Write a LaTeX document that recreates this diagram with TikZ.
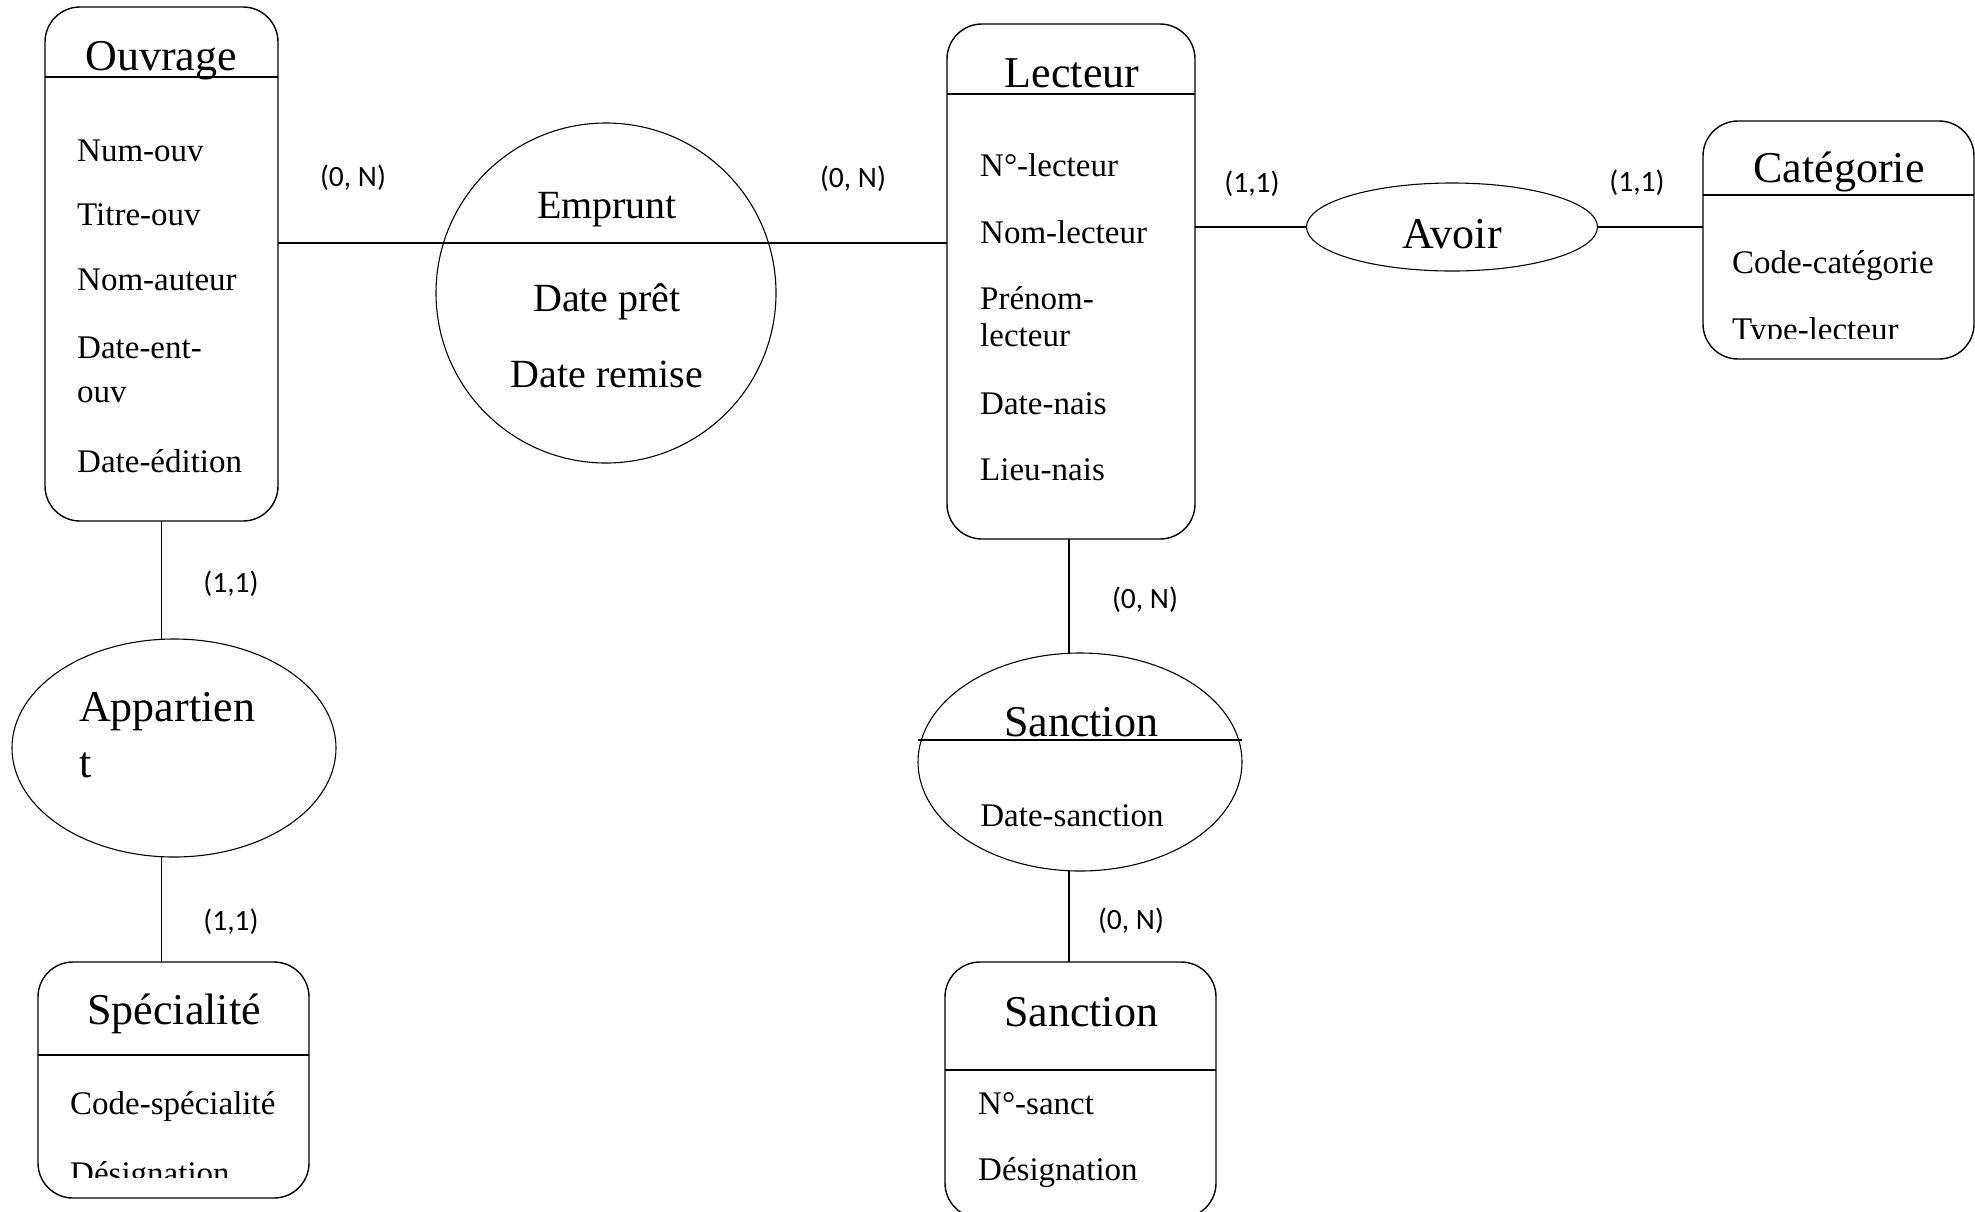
\documentclass[tikz,border=0pt]{standalone}
\usepackage{fontspec}
\setmainfont{Liberation Serif}
\newfontfamily\cardfont{Carlito}
\usetikzlibrary{shapes.geometric}
\begin{document}
\begin{tikzpicture}[x=1pt,y=-1pt,
  entity/.style={draw, rectangle, rounded corners=35pt, line width=1.4pt, inner sep=0pt, outer sep=0pt},
  rel/.style={draw, ellipse, line width=1.1pt, inner sep=0pt, outer sep=0pt},
  link/.style={line width=1.8pt},
  sepline/.style={line width=1.6pt},
  title/.style={inner sep=0pt, anchor=base, font=\fontsize{44}{44}\selectfont},
  attr/.style={inner sep=0pt, anchor=base west, font=\fontsize{33}{33}\selectfont},
  reltext/.style={inner sep=0pt, anchor=base, font=\fontsize{40}{40}\selectfont},
  card/.style={inner sep=0pt, anchor=base, font=\cardfont\fontsize{29.5}{29.5}\selectfont},
]
\useasboundingbox[fill=white] (0,0) rectangle (1975,1211);

% ---------- Entities ----------
\node[entity, minimum width=233pt, minimum height=514pt] (ouvrage) at (161.5,264) {};
\draw[sepline] (ouvrage.west |- 0,77) -- (ouvrage.east |- 0,77);
\node[title] (ouvrage-t) at (161,70) {Ouvrage};
\node[attr] (ouvrage-a1) at (77,161) {Num-ouv};
\node[attr] (ouvrage-a2) at (77,225) {Titre-ouv};
\node[attr] (ouvrage-a3) at (77,290) {Nom-auteur};
\node[attr] (ouvrage-a4) at (77,358) {Date-ent-};
\node[attr] (ouvrage-a4b) at (77,402) {ouv};
\node[attr] (ouvrage-a5) at (77,472) {Date-édition};

\node[entity, minimum width=248pt, minimum height=515pt] (lecteur) at (1071,281.5) {};
\draw[sepline] (lecteur.west |- 0,94) -- (lecteur.east |- 0,94);
\node[title] (lecteur-t) at (1072,87) {Lecteur};
\node[attr] (lecteur-a1) at (980,176) {N°-lecteur};
\node[attr] (lecteur-a2) at (980,243) {Nom-lecteur};
\node[attr] (lecteur-a3) at (980,309) {Prénom-};
\node[attr] (lecteur-a3b) at (980,346) {lecteur};
\node[attr] (lecteur-a4) at (980,414) {Date-nais};
\node[attr] (lecteur-a5) at (980,480) {Lieu-nais};

\node[entity, minimum width=271pt, minimum height=238pt] (categorie) at (1838.5,240) {};
\draw[sepline] (categorie.west |- 0,195) -- (categorie.east |- 0,195);
\node[title] (categorie-t) at (1839,182) {Catégorie};
\node[attr] (categorie-a1) at (1732,273) {Code-catégorie};
\begin{scope}
  \clip (1705,300) rectangle (1970,338);
  \node[attr] (categorie-a2) at (1732,340) {Type-lecteur};
\end{scope}

\node[entity, minimum width=271pt, minimum height=236pt] (specialite) at (173.5,1080) {};
\draw[sepline] (specialite.west |- 0,1055) -- (specialite.east |- 0,1055);
\node[title] (specialite-t) at (174,1024) {Spécialité};
\node[attr] (specialite-a1) at (70,1114) {Code-spécialité};
\begin{scope}
  \clip (40,1140) rectangle (305,1177);
  \node[attr] (specialite-a2) at (70,1184) {Désignation};
\end{scope}

\node[entity, minimum width=271pt, minimum height=256pt] (sanction) at (1080.5,1090) {};
\draw[sepline] (sanction.west |- 0,1070) -- (sanction.east |- 0,1070);
\node[title] (sanction-t) at (1081,1026) {Sanction};
\node[attr] (sanction-a1) at (978,1114) {N°-sanct};
\node[attr] (sanction-a2) at (978,1180) {Désignation};

% ---------- Relationships ----------
\node[rel, circle, minimum size=340pt] (emprunt) at (606,293) {};
\coordinate (emprunt-sep) at (606,243);
\node[reltext] (emprunt-t) at (607,218) {Emprunt};
\node[reltext] (emprunt-a1) at (607,311) {Date prêt};
\node[reltext] (emprunt-a2) at (607,387) {Date remise};

\node[rel, minimum width=291pt, minimum height=88pt] (avoir) at (1452,227) {};
\node[title] (avoir-t) at (1452,248) {Avoir};

\node[rel, minimum width=324pt, minimum height=218pt] (appartient) at (174,748) {};
\node[title, anchor=base west] (appartient-t1) at (79,721) {Appartien};
\node[title, anchor=base west] (appartient-t2) at (79,777) {t};

\node[rel, minimum width=324pt, minimum height=218pt] (sanctionrel) at (1080,762) {};
\draw[sepline] ([yshift=22pt]sanctionrel.west) -- ([yshift=22pt]sanctionrel.east);
\node[title] (sanctionrel-t) at (1081,736) {Sanction};
\node[attr, anchor=base] (sanctionrel-a1) at (1072,826) {Date-sanction};

% ---------- Connectors ----------
\draw[link] (ouvrage.east |- emprunt-sep) -- (emprunt-sep) -- (lecteur.west |- emprunt-sep);
\draw[link] (lecteur.east |- avoir.west) -- (avoir.west);
\draw[link] (avoir.east) -- (categorie.west |- avoir.east);
\draw[link] (ouvrage.south) -- (ouvrage.south |- appartient.north);
\draw[link] (ouvrage.south |- appartient.south) -- (ouvrage.south |- specialite.north);
\draw[link] ([xshift=-2pt]lecteur.south) -- ([xshift=-2pt]lecteur.south |- sanctionrel.north);
\draw[link] ([xshift=-2pt]lecteur.south |- sanctionrel.south) -- ([xshift=-2pt]lecteur.south |- sanction.north);

% ---------- Cardinalities ----------
\node[card] (c1) at (353,186) {(0, N)};
\node[card] (c2) at (853,187) {(0, N)};
\node[card] (c3) at (1252,192) {(1,1)};
\node[card] (c4) at (1637,191) {(1,1)};
\node[card] (c5) at (231,592) {(1,1)};
\node[card] (c6) at (231,930) {(1,1)};
\node[card] (c7) at (1145,608) {(0, N)};
\node[card] (c8) at (1131,929) {(0, N)};
\end{tikzpicture}
\end{document}
